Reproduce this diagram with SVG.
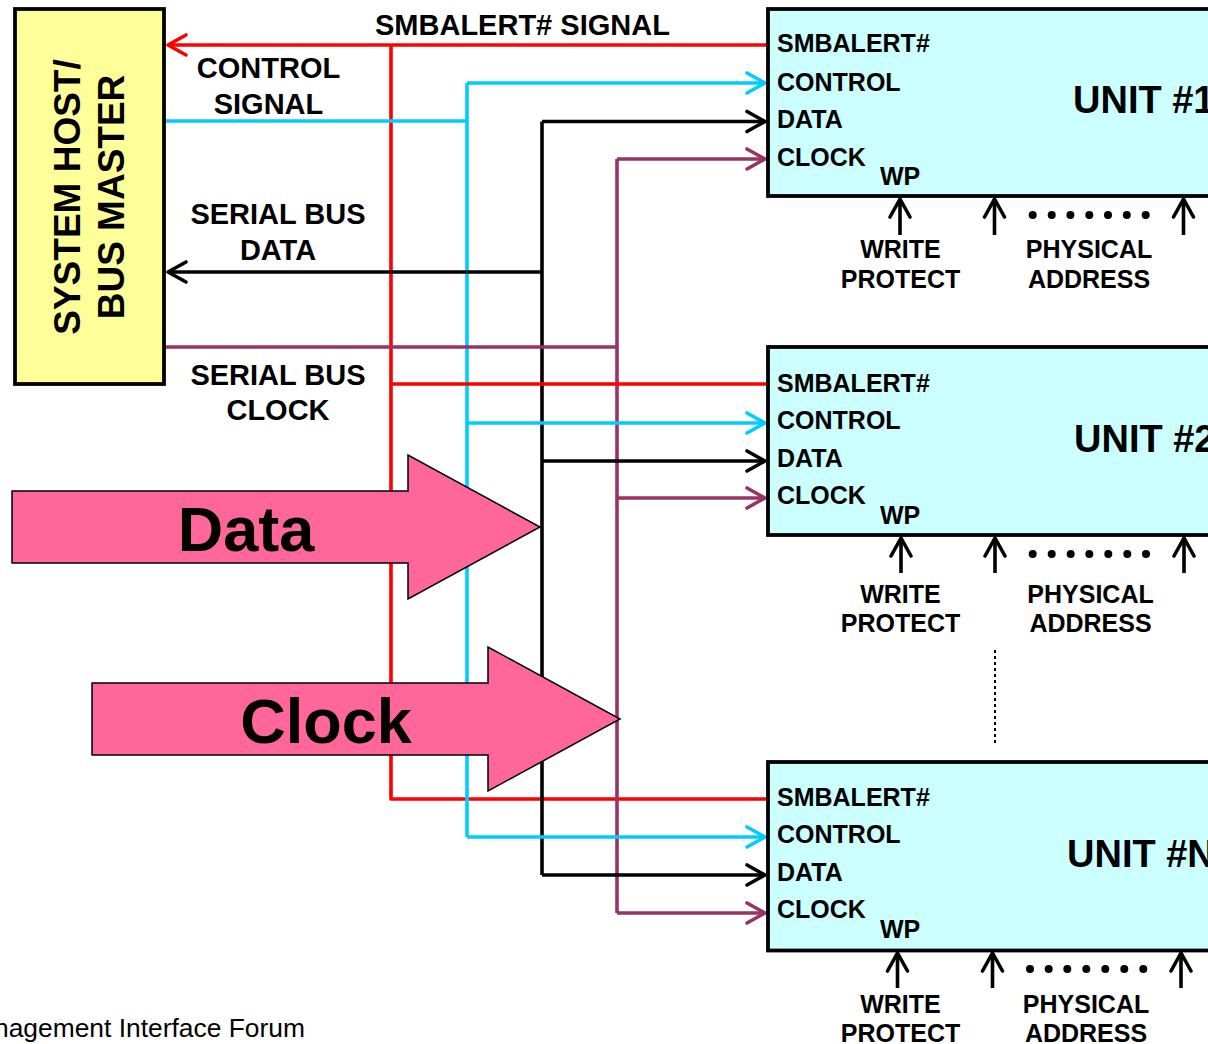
<svg xmlns="http://www.w3.org/2000/svg" width="1208" height="1044" viewBox="0 0 1208 1044">
<style>
text{font-family:"Liberation Sans",Arial,sans-serif;font-weight:bold;fill:#000}
.ln{fill:none;stroke-width:3.6;stroke-linejoin:round}
.r{stroke:#FF0000}.c{stroke:#00CCFF}.k{stroke:#000}.p{stroke:#993366}
.box{stroke:#000;stroke-width:3.8}
.host{fill:#FFFF99}.unit{fill:#CCFFFF}
.big{fill:#FF6699;stroke:#000;stroke-width:1.5;stroke-linejoin:miter}
.lbl{font-size:29px;text-anchor:middle}
.pin{font-size:25px}
.name{font-size:38px}
.sub{font-size:25px;text-anchor:middle}
.dot{fill:#000}
</style>
<defs>
<marker id="aR" viewBox="-22 -13 26 26" refX="0" refY="0" markerWidth="26" markerHeight="26" markerUnits="userSpaceOnUse" orient="auto"><path d="M-18,-10 L0,0 L-18,10" fill="none" stroke="#FF0000" stroke-width="3.6" stroke-linecap="round" stroke-linejoin="round"/></marker>
<marker id="aC" viewBox="-22 -13 26 26" refX="0" refY="0" markerWidth="26" markerHeight="26" markerUnits="userSpaceOnUse" orient="auto"><path d="M-18,-10 L0,0 L-18,10" fill="none" stroke="#00CCFF" stroke-width="3.6" stroke-linecap="round" stroke-linejoin="round"/></marker>
<marker id="aK" viewBox="-22 -13 26 26" refX="0" refY="0" markerWidth="26" markerHeight="26" markerUnits="userSpaceOnUse" orient="auto"><path d="M-18,-10 L0,0 L-18,10" fill="none" stroke="#000" stroke-width="3.6" stroke-linecap="round" stroke-linejoin="round"/></marker>
<marker id="aP" viewBox="-22 -13 26 26" refX="0" refY="0" markerWidth="26" markerHeight="26" markerUnits="userSpaceOnUse" orient="auto"><path d="M-18,-10 L0,0 L-18,10" fill="none" stroke="#993366" stroke-width="3.6" stroke-linecap="round" stroke-linejoin="round"/></marker>
</defs>
<rect width="1208" height="1044" fill="#fff"/>

<g id="connectors">
  <path class="ln r" d="M391,45 V799 H767"/>
  <path class="ln c" d="M467,83 V837"/>
  <path class="ln k" d="M542,121.5 V875"/>
  <path class="ln p" d="M617,159 V913"/>
  <path class="ln r" d="M767,45 H168" marker-end="url(#aR)"/>
  <path class="ln c" d="M165,121 H467"/>
  <path class="ln k" d="M542,272 H168" marker-end="url(#aK)"/>
  <path class="ln p" d="M165,347 H617"/>
  <path class="ln c" d="M467,83 H765" marker-end="url(#aC)"/>
  <path class="ln k" d="M542,121.5 H765" marker-end="url(#aK)"/>
  <path class="ln p" d="M617,159 H765" marker-end="url(#aP)"/>
  <path class="ln r" d="M391,384 H767"/>
  <path class="ln c" d="M467,423 H765" marker-end="url(#aC)"/>
  <path class="ln k" d="M542,461 H765" marker-end="url(#aK)"/>
  <path class="ln p" d="M617,498 H765" marker-end="url(#aP)"/>
  <path class="ln c" d="M467,837 H765" marker-end="url(#aC)"/>
  <path class="ln k" d="M542,875 H765" marker-end="url(#aK)"/>
  <path class="ln p" d="M617,913 H765" marker-end="url(#aP)"/>
  <path class="ln k" d="M900,235 V199" marker-end="url(#aK)"/>
  <path class="ln k" d="M994.5,235 V199" marker-end="url(#aK)"/>
  <path class="ln k" d="M1183.5,235 V199" marker-end="url(#aK)"/>
  <path class="ln k" d="M901,573 V538" marker-end="url(#aK)"/>
  <path class="ln k" d="M995,573 V538" marker-end="url(#aK)"/>
  <path class="ln k" d="M1184,573 V538" marker-end="url(#aK)"/>
  <path class="ln k" d="M897.5,988 V953" marker-end="url(#aK)"/>
  <path class="ln k" d="M992.5,988 V953" marker-end="url(#aK)"/>
  <path class="ln k" d="M1181,988 V953" marker-end="url(#aK)"/>
  <path d="M995,650 V743" stroke="#000" stroke-width="2" stroke-dasharray="3 3" fill="none"/>
</g>

<g id="data-arrow">
  <polygon class="big" points="12,491 408,491 408,455 540,527 408,599 408,563 12,563"/>
  <text x="246" y="551" font-size="63" text-anchor="middle">Data</text>
</g>
<g id="clock-arrow">
  <polygon class="big" points="92,683 488,683 488,647 620,719 488,791 488,755 92,755"/>
  <text x="326" y="743" font-size="63" text-anchor="middle">Clock</text>
</g>

<g id="host">
  <rect class="box host" x="15" y="9" width="149" height="375"/>
  <text transform="translate(79.5,197) rotate(-90)" font-size="37" text-anchor="middle">SYSTEM HOST/</text>
  <text transform="translate(124,197) rotate(-90)" font-size="37" text-anchor="middle">BUS MASTER</text>
</g>

<g id="host-labels">
  <text x="375" y="35" font-size="29">SMBALERT# SIGNAL</text>
  <text class="lbl" x="268.5" y="78">CONTROL</text>
  <text class="lbl" x="268.5" y="114">SIGNAL</text>
  <text class="lbl" x="278" y="224">SERIAL BUS</text>
  <text class="lbl" x="278" y="259.5">DATA</text>
  <text class="lbl" x="278" y="384.5">SERIAL BUS</text>
  <text class="lbl" x="278" y="420">CLOCK</text>
</g>

<g id="unit1">
  <rect class="box unit" x="768" y="9" width="450" height="187"/>
  <text class="pin" x="777" y="52">SMBALERT#</text>
  <text class="pin" x="777" y="90.5">CONTROL</text>
  <text class="pin" x="777" y="128.3">DATA</text>
  <text class="pin" x="777" y="165.7">CLOCK</text>
  <text class="pin" x="880" y="185">WP</text>
  <text class="name" x="1073" y="113.3">UNIT #1</text>
  <text class="sub" x="900.5" y="258.3">WRITE</text>
  <text class="sub" x="900.5" y="288.3">PROTECT</text>
  <text class="sub" x="1089" y="258.3">PHYSICAL</text>
  <text class="sub" x="1089" y="288.3">ADDRESS</text>
  <circle class="dot" cx="1032.7" cy="215" r="4"/><circle class="dot" cx="1051.7" cy="215" r="4"/><circle class="dot" cx="1070.4" cy="215" r="4"/><circle class="dot" cx="1089.3" cy="215" r="4"/><circle class="dot" cx="1108" cy="215" r="4"/><circle class="dot" cx="1126.8" cy="215" r="4"/><circle class="dot" cx="1145.7" cy="215" r="4"/>
</g>

<g id="unit2">
  <rect class="box unit" x="768" y="347" width="450" height="188"/>
  <text class="pin" x="777" y="391.7">SMBALERT#</text>
  <text class="pin" x="777" y="429.3">CONTROL</text>
  <text class="pin" x="777" y="466.7">DATA</text>
  <text class="pin" x="777" y="504">CLOCK</text>
  <text class="pin" x="880" y="524">WP</text>
  <text class="name" x="1074" y="451.7">UNIT #2</text>
  <text class="sub" x="900.5" y="602.7">WRITE</text>
  <text class="sub" x="900.5" y="631.7">PROTECT</text>
  <text class="sub" x="1090.5" y="602.7">PHYSICAL</text>
  <text class="sub" x="1090.5" y="631.7">ADDRESS</text>
  <circle class="dot" cx="1032.7" cy="554" r="4"/><circle class="dot" cx="1051.7" cy="554" r="4"/><circle class="dot" cx="1070.7" cy="554" r="4"/><circle class="dot" cx="1089.3" cy="554" r="4"/><circle class="dot" cx="1108.3" cy="554" r="4"/><circle class="dot" cx="1127.3" cy="554" r="4"/><circle class="dot" cx="1146" cy="554" r="4"/>
</g>

<g id="unitN">
  <rect class="box unit" x="768" y="762" width="450" height="188.5"/>
  <text class="pin" x="777" y="806">SMBALERT#</text>
  <text class="pin" x="777" y="843.3">CONTROL</text>
  <text class="pin" x="777" y="880.7">DATA</text>
  <text class="pin" x="777" y="918.3">CLOCK</text>
  <text class="pin" x="880" y="938.3">WP</text>
  <text class="name" x="1067" y="866.7">UNIT #N</text>
  <text class="sub" x="900.5" y="1012.7">WRITE</text>
  <text class="sub" x="900.5" y="1041.7">PROTECT</text>
  <text class="sub" x="1086" y="1012.7">PHYSICAL</text>
  <text class="sub" x="1086" y="1041.7">ADDRESS</text>
  <circle class="dot" cx="1030" cy="969" r="4"/><circle class="dot" cx="1048.7" cy="969" r="4"/><circle class="dot" cx="1067.3" cy="969" r="4"/><circle class="dot" cx="1086.3" cy="969" r="4"/><circle class="dot" cx="1105.3" cy="969" r="4"/><circle class="dot" cx="1124.3" cy="969" r="4"/><circle class="dot" cx="1143.3" cy="969" r="4"/>
</g>

<text x="-6" y="1036.7" font-size="26.4" style="font-weight:normal">nagement Interface Forum</text>
</svg>
